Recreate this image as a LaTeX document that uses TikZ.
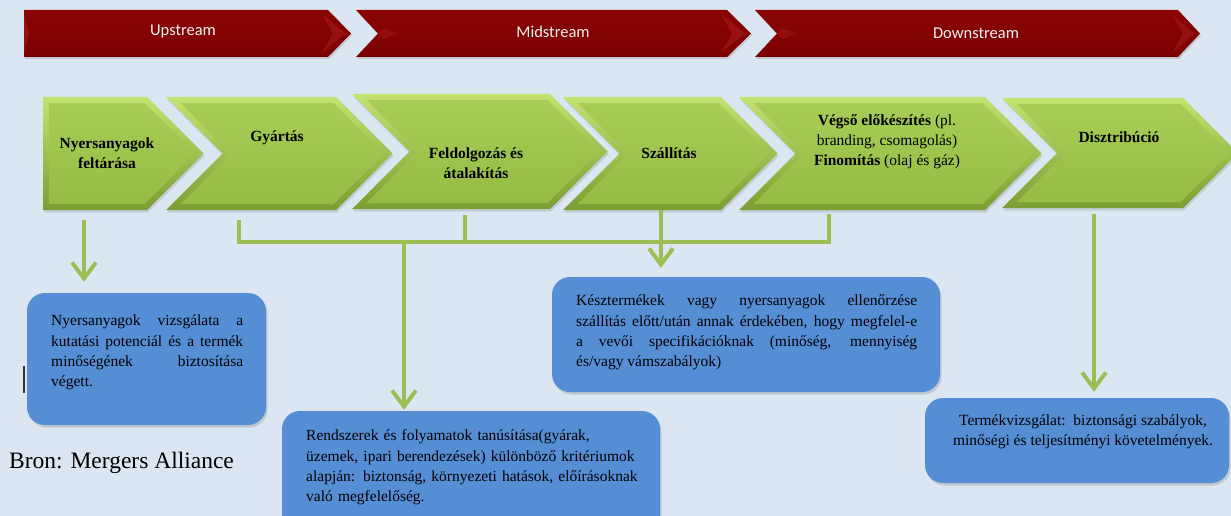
\documentclass[tikz,border=0pt]{standalone}
\usepackage{fontspec}
\setmainfont{Liberation Serif}
\newfontfamily\calibri{Carlito}
\usetikzlibrary{arrows.meta,shadows}
\definecolor{bg}{RGB}{220,230,242}
\definecolor{redarrow}{RGB}{124,0,0}
\definecolor{redtop}{RGB}{138,4,4}
\definecolor{redlight}{RGB}{185,40,40}
\definecolor{gtop}{RGB}{196,226,112}
\definecolor{gbot}{RGB}{122,158,50}
\definecolor{gftop}{RGB}{168,205,86}
\definecolor{gfbot}{RGB}{150,188,70}
\definecolor{gedge}{RGB}{150,186,72}
\definecolor{gline}{RGB}{155,190,85}
\definecolor{bluebox}{RGB}{85,142,213}
\newcommand\gchev[5]{% left, top, top-right corner, bottom, notch flag
  \pgfmathsetmacro\gchevhh{(#4-#2)/2}%
  \path[greenchev] (#1,#2) -- (#3,#2) -- ({#3+\gchevhh},{#2+\gchevhh}) -- (#3,#4) -- (#1,#4)
     -- ({#1+#5*\gchevhh},{#2+\gchevhh}) -- cycle;
  \path[greenface] ({#1+6+8.5*#5},{#2+6}) -- ({#3-2.5},{#2+6}) -- ({#3+\gchevhh-8.5},{#2+\gchevhh})
     -- ({#3-2.5},{#4-6}) -- ({#1+6+8.5*#5},{#4-6}) -- ({#1+#5*\gchevhh+6+2.5*#5},{#2+\gchevhh}) -- cycle;
}
\begin{document}
\begin{tikzpicture}[x=1pt,y=-1pt,
  redchev/.style={top color=redtop,bottom color=redarrow,
    drop shadow={shadow xshift=1pt,shadow yshift=-2pt,opacity=0.3}},
  redfacet/.style={fill=redlight,opacity=0.4},
  greenchev/.style={top color=gtop,bottom color=gbot,
    drop shadow={shadow xshift=1pt,shadow yshift=-2.5pt,opacity=0.25}},
  greenface/.style={top color=gftop,bottom color=gfbot},
  rtext/.style={font=\calibri\fontsize{16.5}{20}\selectfont,text=white!95!black,inner sep=0},
  gtext/.style={font=\fontsize{15.5}{20}\selectfont\bfseries,align=center,inner sep=0},
  gplain/.style={font=\fontsize{15.5}{20}\selectfont,align=center,inner sep=0},
  bbox/.style={fill=bluebox,rounded corners=18pt,inner sep=0,
    drop shadow={shadow xshift=1.5pt,shadow yshift=-2.5pt,opacity=0.3}},
  btext/.style={font=\fontsize{15.5}{20.3}\selectfont,inner sep=0},
  gconn/.style={draw=gline,line width=4pt},
  garrow/.style={draw=gline,line width=4pt,-{Straight Barb[length=16pt,width=24pt]}}]

\fill[bg] (0,0) rectangle (1231,516);
\useasboundingbox (0,0) rectangle (1231,516);

% red stream arrows
\path[redchev] (24,10) -- (328,10) -- (351,33.5) -- (328,57) -- (24,57) -- cycle;
\path[redchev] (356,10) -- (727,10) -- (751,33.5) -- (727,57) -- (356,57) -- (378,33.5) -- cycle;
\path[redchev] (755,10) -- (1178,10) -- (1200,33.5) -- (1178,57) -- (755,57) -- (777,33.5) -- cycle;
\path[redfacet] (322,14) -- (345,33.5) -- (322,53) -- (333,33.5) -- cycle;
\path[redfacet] (721,14) -- (745,33.5) -- (721,53) -- (732,33.5) -- cycle;
\path[redfacet] (1172,14) -- (1194,33.5) -- (1172,53) -- (1183,33.5) -- cycle;
\path[redfacet,opacity=0.3] (378,33.5) -- (383,28) -- (398,33.5) -- (383,39) -- cycle;
\path[redfacet,opacity=0.3] (777,33.5) -- (782,28) -- (797,33.5) -- (782,39) -- cycle;
\path[redfacet] (24,14) -- (29,33.5) -- (24,53) -- cycle;

\node[rtext] (up) at (183,32) {Upstream};
\node[rtext] (mid) at (553,32) {Midstream};
\node[rtext] (down) at (976,33) {Downstream};

% green process chevrons
\gchev{43}{97}{147}{210}{0}
\gchev{166}{97}{336}{210}{1}
\gchev{352}{94}{550}{209}{1}
\gchev{563}{97}{721}{210}{1}
\gchev{739}{97}{985}{210}{1}
\gchev{1002}{98}{1183}{208}{1}

\node[gtext] (n1) at (107,153) {Nyersanyagok\\feltárása};
\node[gtext] (n2) at (277,138) {Gyártás};
\node[gtext] (n3) at (476,163) {Feldolgozás és\\átalakítás};
\node[gtext] (n4) at (669,153) {Szállítás};
\node[gplain] (n5) at (887,142) {\textbf{Végső előkészítés} (pl.\\branding, csomagolás)\\\textbf{Finomítás} (olaj és gáz)};
\node[gtext] (n6) at (1119,137) {Disztribúció};

% blue boxes
\node[bbox,minimum width=239pt,minimum height=132pt] (bA) at (146.5,359) {};
\node[bbox,minimum width=378pt,minimum height=130pt] (bB) at (471,476) {};
\node[bbox,minimum width=388pt,minimum height=115pt] (bC) at (746,334.5) {};
\node[bbox,minimum width=304pt,minimum height=85pt] (bD) at (1077,440.5) {};

\node[btext,text width=192pt,align=justify,anchor=west] (tA) at (51,352.5)
  {Nyersanyagok vizsgálata a\linebreak kutatási potenciál és a termék\linebreak minőségének biztosítása\linebreak végett.};
\node[btext,text width=345pt,align=left,anchor=west] (tB) at (306,467.5)
  {Rendszerek és folyamatok tanúsítása(gyárak,\\üzemek, ipari berendezések) különböző kritériumok\\alapján: biztonság, környezeti hatások, előírásoknak\\való megfelelőség.};
\node[btext,text width=341pt,align=justify,anchor=west] (tC) at (576,332.5)
  {Késztermékek vagy nyersanyagok ellenőrzése\linebreak szállítás előtt/után annak érdekében, hogy megfelel-e\linebreak a vevői specifikációknak (minőség, mennyiség\linebreak és/vagy vámszabályok)};
\node[btext,align=center] (tD) at (1083,431.5)
  {Termékvizsgálat:\ \ biztonsági szabályok,\\minőségi és teljesítményi követelmények.};

% source
\node[font=\fontsize{23.5}{28}\selectfont,anchor=west,inner sep=0] (src) at (9,463) {Bron: Mergers Alliance};
\coordinate (m1) at (24,366);
\coordinate (m2) at (24,393);
\draw[line width=2pt,black!80] (m1) -- (m2);

% connectors
\coordinate (s1) at (84,220);
\coordinate (s2) at (239,220);
\coordinate (s3) at (465,215);
\coordinate (s4) at (661,210);
\coordinate (s5) at (829,214);
\coordinate (s6) at (1094,214);
\coordinate (bar) at (404,242);

\draw[garrow,shorten >=11pt] (s1) -- (s1 |- bA.north);
\draw[gconn] (s2) -- (s2 |- bar) -- (s5 |- bar) -- (s5);
\draw[gconn] (s3) -- (s3 |- bar);
\draw[garrow,shorten >=1pt] (bar) -- (bar |- bB.north);
\draw[garrow,shorten >=9pt] (s4) -- (s4 |- bC.north);
\draw[garrow,shorten >=6pt] (s6) -- (s6 |- bD.north);
\end{tikzpicture}
\end{document}
